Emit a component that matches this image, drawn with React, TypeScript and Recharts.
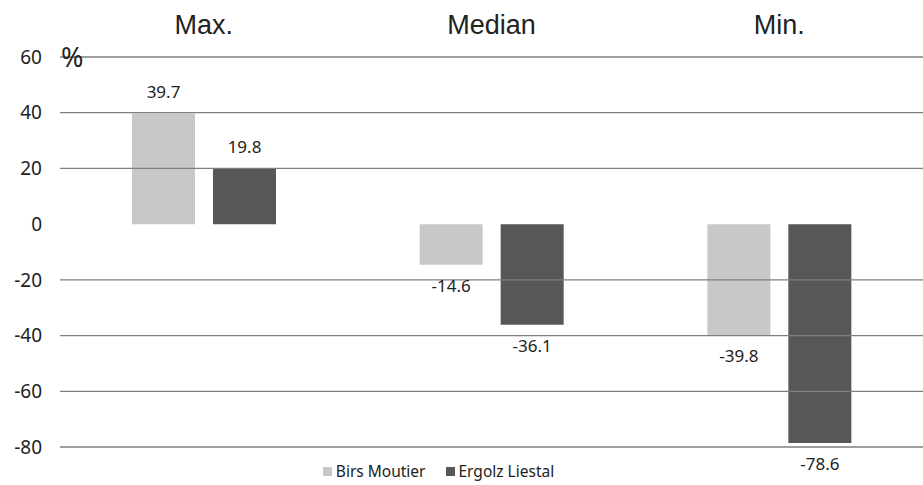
import React from 'react';
import { BarChart, Bar, XAxis, YAxis, ReferenceLine, LabelList, Legend, Label } from 'recharts';

// Statistic categories
const categories = ['Max.', 'Median', 'Min.'];
// Change in percent per station
const birsMoutier = [39.7, -14.6, -39.8];
const ergolzLiestal = [19.8, -36.1, -78.6];
// Axis ticks and the grid lines drawn (none at zero)
const yTicks = [-80, -60, -40, -20, 0, 20, 40, 60];
const gridValues = [-80, -60, -40, -20, 20, 40, 60];

const data = categories.map((c, i) => ({
  cat: c,
  birs: birsMoutier[i],
  ergolz: ergolzLiestal[i],
}));

const BIRS = '#c8c8c8';
const ERGOLZ = '#575757';
const FONT = '"Noto Sans", "Open Sans", sans-serif';

const ValueLabel = (props: any) => {
  const { x, y, width, height, value } = props;
  const v = Number(value);
  const cx = x + width / 2;
  const top = Math.min(y, y + height);
  const bottom = Math.max(y, y + height);
  const ty = v >= 0 ? top - 16 : bottom + 27;
  return (
    <text x={cx} y={ty} textAnchor="middle" fontFamily={FONT} fontSize={17} fill="#222">
      {v.toFixed(1)}
    </text>
  );
};

const TopTick = (props: any) => {
  const { x, payload } = props;
  return (
    <text x={x} y={34} textAnchor="middle" fontFamily='"Liberation Sans", Arial, sans-serif' fontSize={27} fill="#222">
      {payload.value}
    </text>
  );
};

const LegendContent = () => (
  <div style={{ display: 'flex', justifyContent: 'center', fontFamily: FONT, fontSize: 15.5, color: '#222', paddingRight: 46 }}>
    <span style={{ display: 'flex', alignItems: 'center', marginRight: 20 }}>
      <span style={{ width: 9, height: 9, background: BIRS, display: 'inline-block', marginRight: 4 }} />
      Birs Moutier
    </span>
    <span style={{ display: 'flex', alignItems: 'center' }}>
      <span style={{ width: 9, height: 9, background: ERGOLZ, display: 'inline-block', marginRight: 4 }} />
      Ergolz Liestal
    </span>
  </div>
);

export default function App() {
  return (
    <div style={{ position: 'absolute', left: 0, top: 0, background: '#fff' }}>
      <BarChart
        width={923}
        height={485}
        data={data}
        margin={{ top: 0, right: 0, bottom: 16, left: 0 }}
        barGap={18}
        barSize={63}
      >
        <XAxis
          dataKey="cat"
          orientation="top"
          height={57}
          axisLine={false}
          tickLine={false}
          tick={<TopTick />}
        />
        <YAxis
          domain={[-80, 60]}
          ticks={yTicks}
          width={60}
          axisLine={false}
          tickLine={false}
          tickMargin={12}
          interval={0}
          tick={{ fontFamily: FONT, fontSize: 19, fill: '#222' }}
        >
          <Label
            content={() => (
              <text x={61} y={67} fontFamily={FONT} fontSize={27} fill="#222">%</text>
            )}
          />
        </YAxis>
        {gridValues.map((v) => (
          <ReferenceLine key={v} y={v} stroke="#7f7f7f" strokeWidth={1.3} ifOverflow="extendDomain" />
        ))}
        <Bar dataKey="birs" name="Birs Moutier" fill={BIRS} isAnimationActive={false}>
          <LabelList dataKey="birs" content={<ValueLabel />} />
        </Bar>
        <Bar dataKey="ergolz" name="Ergolz Liestal" fill={ERGOLZ} isAnimationActive={false}>
          <LabelList dataKey="ergolz" content={<ValueLabel />} />
        </Bar>
        <Legend
          content={<LegendContent />}
          wrapperStyle={{ position: 'absolute', top: 460, left: 0, width: 923, bottom: 'auto' }}
        />
      </BarChart>
    </div>
  );
}
